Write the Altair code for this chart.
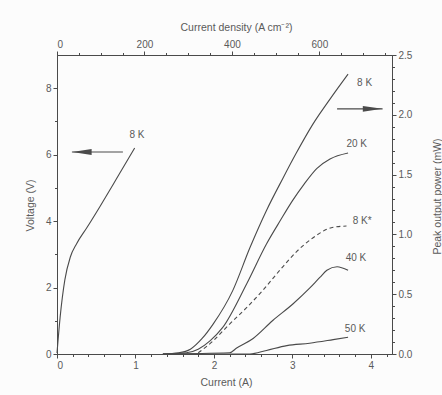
import altair as alt
import pandas as pd

# ---- data ---------------------------------------------------------------
# Voltage vs current at 8 K (left axis)
v_current = [0.0, 0.04, 0.10, 0.17, 0.25, 0.38, 0.55, 0.76, 0.99]
v_voltage = [0.03, 1.11, 2.23, 2.92, 3.32, 3.80, 4.45, 5.28, 6.20]

# Peak output power vs current (right axis)
p8_current = [1.35, 1.55, 1.70, 1.85, 1.99, 2.24, 2.46, 2.67, 2.88, 3.05, 3.26, 3.50, 3.71]
p8_power = [0.0, 0.01, 0.04, 0.13, 0.25, 0.53, 0.89, 1.20, 1.47, 1.68, 1.92, 2.15, 2.34]

p20_current = [1.35, 1.65, 1.80, 1.95, 2.11, 2.42, 2.67, 2.85, 3.00, 3.15, 3.31, 3.48, 3.71]
p20_power = [0.0, 0.01, 0.04, 0.11, 0.22, 0.59, 0.92, 1.12, 1.28, 1.42, 1.55, 1.63, 1.68]

p8s_current = [1.80, 1.99, 2.11, 2.20, 2.42, 2.62, 2.84, 3.06, 3.26, 3.52, 3.69]
p8s_power = [0.01, 0.11, 0.19, 0.25, 0.39, 0.53, 0.70, 0.86, 0.97, 1.06, 1.07]

p40_current = [1.35, 2.20, 2.29, 2.50, 2.75, 3.01, 3.22, 3.35, 3.44, 3.57, 3.71]
p40_power = [0.0, 0.01, 0.05, 0.13, 0.28, 0.42, 0.55, 0.64, 0.70, 0.73, 0.70]

p50_current = [1.35, 2.46, 2.67, 2.93, 3.22, 3.52, 3.71]
p50_power = [0.0, 0.0, 0.03, 0.07, 0.09, 0.12, 0.14]

# curve labels
v_label = {"text": ["8 K"], "current": [1.02], "voltage": [6.58]}
p_labels = {
    "text": ["8 K", "20 K", "8 K*", "40 K", "50 K"],
    "current": [3.92, 3.82, 3.89, 3.81, 3.80],
    "power": [2.27, 1.76, 1.11, 0.80, 0.21],
}

# arrows pointing at the axis each curve group belongs to
v_arrow = {"current": [0.19], "current_end": [0.84], "voltage": [6.08]}
p_arrow = {"current": [3.57], "current_end": [4.15], "power": [2.05]}

# axis extents
current_max = 4.27
density_max = 766
voltage_max = 9
power_max = 2.5

# ---- styling ------------------------------------------------------------
INK = "#4a4a4a"
TXT = "#5a5a5a"
FONT = "Liberation Sans"

x_scale = alt.Scale(domain=[0, current_max], nice=False, zero=False)
yv_scale = alt.Scale(domain=[0, voltage_max], nice=False)
yp_scale = alt.Scale(domain=[0, power_max], nice=False)
d_scale = alt.Scale(domain=[0, density_max], nice=False)

bottom_ticks = [round(i * 0.2, 1) for i in range(22)]
left_ticks = list(range(0, 9))
right_ticks = [round(i * 0.1, 1) for i in range(26)]
top_ticks = list(range(0, 800, 50))

bottom_axis = alt.Axis(
    orient="bottom", values=bottom_ticks, title="Current (A)",
    labelExpr="abs(datum.value - round(datum.value)) < 1e-6 ? format(datum.value, 'd') : ''",
    tickSize={"condition": {"test": "abs(datum.value - round(datum.value)) < 1e-6", "value": 4}, "value": 2.5},
    titleX=169, titleY=28, titleAlign="center", titleBaseline="middle",
)
left_axis = alt.Axis(
    orient="left", values=left_ticks, title="Voltage (V)",
    labelExpr="datum.value % 2 == 0 ? datum.label : ''",
    tickSize={"condition": {"test": "datum.value % 2 == 0", "value": 4}, "value": 2.5},
    titleX=-27, titleY=150, titleAngle=270, titleAlign="center", titleBaseline="middle",
)
right_axis = alt.Axis(
    orient="right", values=right_ticks, title="Peak output power (mW)", format=".1f",
    labelExpr="abs(datum.value * 2 - round(datum.value * 2)) < 1e-6 ? datum.label : ''",
    tickSize={"condition": {"test": "abs(datum.value * 2 - round(datum.value * 2)) < 1e-6", "value": 4}, "value": 2.5},
    titleX=45, titleY=141, titleAngle=270, titleAlign="center", titleBaseline="middle",
)
top_axis = alt.Axis(
    orient="top", values=top_ticks, title="Current density (A cm⁻²)",
    labelExpr="datum.value % 200 == 0 ? datum.label : ''",
    tickSize={"condition": {"test": "datum.value % 200 == 0", "value": 4}, "value": 2.5},
    titleX=179, titleY=-28, titleAlign="center", titleBaseline="middle",
)

# ---- voltage group (bottom / left axes) ----------------------------------
vx = alt.X("current:Q", scale=x_scale, axis=bottom_axis)
vy = alt.Y("voltage:Q", scale=yv_scale, axis=left_axis)

v_df = pd.DataFrame({"current": v_current, "voltage": v_voltage})
v_line = alt.Chart(v_df).mark_line(color=INK, strokeWidth=1.1, interpolate="monotone").encode(x=vx, y=vy)
v_text = alt.Chart(pd.DataFrame(v_label)).mark_text(
    font=FONT, fontSize=10, color=TXT, align="center", baseline="middle"
).encode(x=vx, y=vy, text="text:N")
va_df = pd.DataFrame(v_arrow)
v_shaft = alt.Chart(va_df).mark_rule(color=INK, strokeWidth=1.2).encode(x=vx, x2="current_end:Q", y=vy)
v_head = alt.Chart(va_df).mark_point(
    shape="M-1,0L1,-0.3L1,0.3Z", filled=True, color=INK, opacity=1, size=380, xOffset=10
).encode(x=vx, y=vy)
voltage_group = alt.layer(v_line, v_shaft, v_head, v_text)

# ---- power group (right axis) --------------------------------------------
px = alt.X("current:Q", scale=x_scale, axis=None)
py = alt.Y("power:Q", scale=yp_scale, axis=right_axis)

def power_line(cur, pw, dash=None):
    df = pd.DataFrame({"current": cur, "power": pw})
    kw = {"color": INK, "strokeWidth": 1.1, "interpolate": "monotone"}
    if dash:
        kw["strokeDash"] = dash
    return alt.Chart(df).mark_line(**kw).encode(x=px, y=py)

p_lines = [
    power_line(p8_current, p8_power),
    power_line(p20_current, p20_power),
    power_line(p8s_current, p8s_power, [4, 3]),
    power_line(p40_current, p40_power),
    power_line(p50_current, p50_power),
]
p_text = alt.Chart(pd.DataFrame(p_labels)).mark_text(
    font=FONT, fontSize=10, color=TXT, align="center", baseline="middle"
).encode(x=px, y=py, text="text:N")
pa_df = pd.DataFrame(p_arrow)
p_shaft = alt.Chart(pa_df).mark_rule(color=INK, strokeWidth=1.2).encode(x=px, x2="current_end:Q", y=py)
p_head = alt.Chart(pa_df).mark_point(
    shape="M1,0L-1,-0.3L-1,0.3Z", filled=True, color=INK, opacity=1, size=380, xOffset=-10
).encode(x=alt.X("current_end:Q", scale=x_scale, axis=None), y=py)
power_group = alt.layer(*p_lines, p_shaft, p_head, p_text)

# ---- current density scale (top axis) ------------------------------------
density = alt.Chart(pd.DataFrame({"density": [0, density_max]})).mark_point(opacity=0).encode(
    x=alt.X("density:Q", scale=d_scale, axis=top_axis)
)

chart = (
    alt.layer(voltage_group, power_group, density)
    .resolve_scale(x="independent", y="independent")
    .properties(
        width=335, height=299,
        autosize=alt.AutoSizeParams(type="none"),
        padding={"left": 57, "top": 55, "right": 50, "bottom": 41},
        background="#fcfcfc",
    )
    .configure_view(stroke=INK, strokeWidth=1)
    .configure_axis(
        grid=False, domainColor=INK, tickColor=INK, domainWidth=1, tickWidth=1,
        labelColor=TXT, titleColor=TXT, labelFont=FONT, titleFont=FONT,
        labelFontSize=10, titleFontSize=10.5, titleFontWeight="normal",
        labelPadding=2,
    )
)

chart.save("out.html", embed_options={"renderer": "svg", "actions": False})
